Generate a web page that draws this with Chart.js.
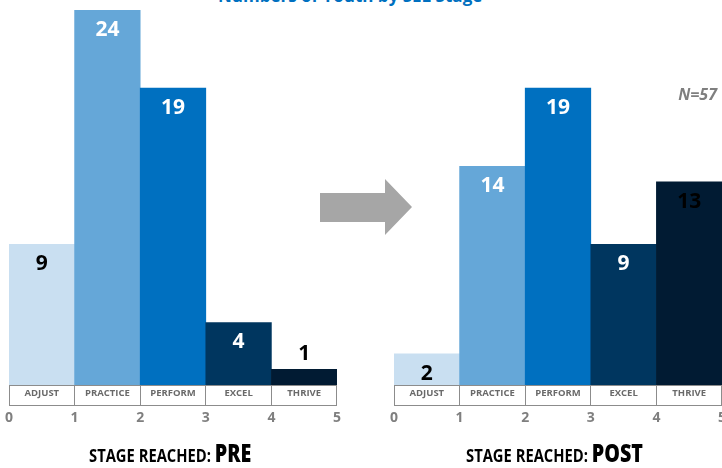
<!DOCTYPE html>
<html lang="en">
  <head>
    <meta charset="UTF-8">
    <title>Numbers of Youth by SEL Stage</title>
    <script src="https://cdn.jsdelivr.net/npm/chart.js"></script>
    <style>
      html, body { margin: 0; padding: 0; background: #fff; }
      body { width: 722px; height: 468px; position: relative; overflow: hidden; font-family: "Open Sans", sans-serif; }
      .title { position: absolute; left: 218px; top: -16px; font-size: 17px; font-weight: 700; color: #0070c0; white-space: nowrap; }
      canvas { position: absolute; top: 0; }
      #preChart { left: 0; }
      #postChart { left: 385px; }
      .n { position: absolute; right: 5px; top: 83px; font-size: 16px; font-weight: 700; font-style: italic; color: #7f7f7f; }
      .stage { position: absolute; top: 440px; white-space: nowrap; color: #000; font-weight: 700; transform: scaleX(0.82); transform-origin: left top; line-height: 26px; }
      .stage span { font-size: 18px; }
      .stage b { font-size: 24px; }
      #arrow { position: absolute; left: 0; top: 0; }
    </style>
  </head>
  <body>
    <div class="title">Numbers of Youth by SEL Stage</div>

    <canvas id="preChart" width="346" height="435"></canvas>
    <canvas id="postChart" width="346" height="435"></canvas>

    <svg id="arrow" width="722" height="468">
      <polygon points="320,193 385,193 385,179 412,207 385,235 385,222 320,222" fill="#a6a6a6"/>
    </svg>

    <div class="n">N=57</div>
    <div class="stage" style="left:89px"><span>STAGE REACHED: </span><b>PRE</b></div>
    <div class="stage" style="left:466px"><span>STAGE REACHED: </span><b>POST</b></div>

    <script>
      // values
      const categories = ['ADJUST', 'PRACTICE', 'PERFORM', 'EXCEL', 'THRIVE'];
      const preValues = [9, 24, 19, 4, 1];
      const postValues = [2, 14, 19, 9, 13];
      const stageTicks = [0, 1, 2, 3, 4, 5];

      const barColors = ['#c9dff1', '#65a7d8', '#0070c0', '#00365f', '#011b33'];
      const labelColors = ['#000', '#fff', '#fff', '#fff', '#000'];
      const boxGray = '#8c8c8c';

      Chart.defaults.font.family = '"Open Sans", sans-serif';

      // draws the count on each bar (above the bar when it's too short)
      const valueLabels = {
        id: 'valueLabels',
        afterDatasetsDraw(chart) {
          const ctx = chart.ctx;
          const meta = chart.getDatasetMeta(0);
          const data = chart.data.datasets[0].data;
          ctx.save();
          ctx.font = 'bold 21px "Open Sans", sans-serif';
          ctx.textAlign = 'center';
          ctx.textBaseline = 'middle';
          meta.data.forEach((bar, i) => {
            const h = bar.base - bar.y;
            let y = bar.y + 20;
            let col = labelColors[i];
            if (h < 30) { y = bar.y - 15; col = '#000'; }
            if (i === 0) col = '#000';
            ctx.fillStyle = col;
            ctx.fillText(data[i], bar.x, y);
          });
          ctx.restore();
        }
      };

      function makeChart(id, values) {
        return new Chart(document.getElementById(id), {
          type: 'bar',
          data: {
            labels: categories,
            datasets: [{
              data: values,
              backgroundColor: barColors,
              borderWidth: 0,
              categoryPercentage: 1,
              barPercentage: 1
            }]
          },
          options: {
            responsive: false,
            animation: false,
            layout: { padding: { left: 9, right: 9, top: 10, bottom: 0 } },
            plugins: { legend: { display: false }, tooltip: { enabled: false } },
            scales: {
              y: { display: false, min: 0, max: 24 },
              x: {
                position: 'bottom',
                grid: { offset: true, drawOnChartArea: false, tickLength: 20, color: boxGray, lineWidth: 1 },
                border: { display: true, color: boxGray, width: 1 },
                ticks: {
                  autoSkip: false, maxRotation: 0, padding: -17,
                  color: '#6a6a6a', font: { size: 9.5, weight: 'bold' }
                },
                afterFit: s => { s.height = 20; }
              },
              x2: {
                type: 'linear',
                position: 'bottom',
                offset: false,
                min: 0,
                max: 5,
                afterBuildTicks: s => { s.ticks = stageTicks.map(v => ({ value: v })); },
                grid: { offset: false, drawOnChartArea: false, drawTicks: false },
                border: { display: true, color: boxGray, width: 1 },
                ticks: {
                  autoSkip: false, maxRotation: 0, padding: 5,
                  color: '#7f7f7f', font: { size: 14, weight: 'bold' }
                },
                afterFit: s => { s.height = 30; }
              }
            }
          },
          plugins: [valueLabels]
        });
      }

      makeChart('preChart', preValues);
      makeChart('postChart', postValues);
    </script>
  </body>
</html>
